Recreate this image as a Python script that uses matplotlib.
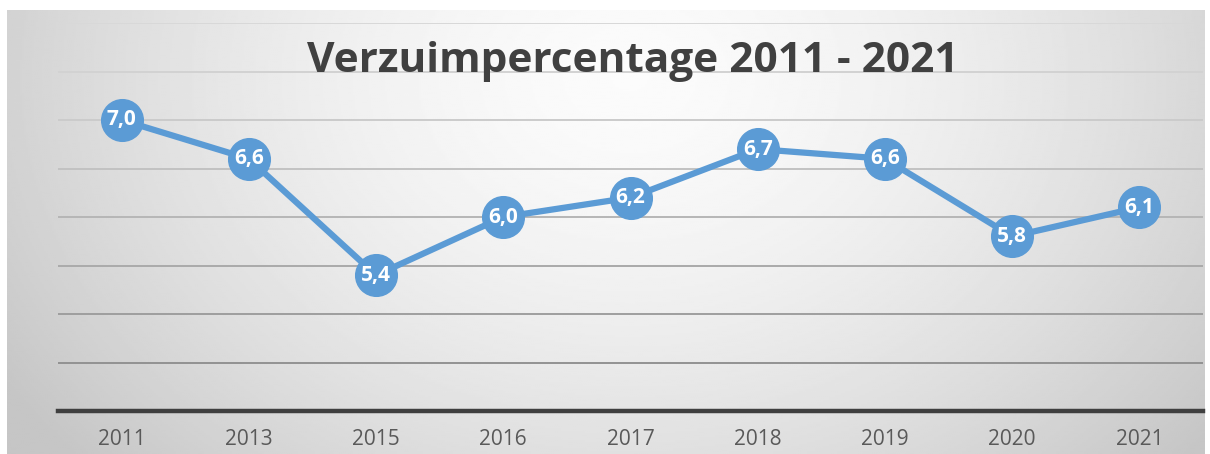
import numpy as np
import matplotlib
matplotlib.use("Agg")
import matplotlib.pyplot as plt

years = ["2011", "2013", "2015", "2016", "2017", "2018", "2019", "2020", "2021"]
values = [7.0, 6.6, 5.4, 6.0, 6.2, 6.7, 6.6, 5.8, 6.1]
labels = ["7,0", "6,6", "5,4", "6,0", "6,2", "6,7", "6,6", "5,8", "6,1"]
title = "Verzuimpercentage 2011 - 2021"
grid_levels = [4.5, 5.0, 5.5, 6.0, 6.5, 7.0, 7.5, 8.0]
grid_colors = ["#929292", "#9e9e9e", "#aaaaaa", "#b6b6b6", "#c2c2c2", "#cbcbcb", "#d2d2d2", "#d8d8d8"]

W, H = 1210, 454
fig = plt.figure(figsize=(W / 100, H / 100), dpi=100)
fig.patch.set_facecolor("white")

# background gradient panel
bx0, by0, bx1, by1 = 7, 10, 1205, 454
bg = fig.add_axes([bx0 / W, 1 - by1 / H, (bx1 - bx0) / W, (by1 - by0) / H])
ny, nx = 200, 600
yy, xx = np.mgrid[0:1:ny * 1j, 0:1:nx * 1j]
cx, cy = 0.52, 0.15
d = np.sqrt(((xx - cx) / 0.62) ** 2 + ((yy - cy) / 1.3) ** 2)
d = np.clip(d, 0, 1)
shade = 0.985 - 0.21 * d ** 1.6
bg.imshow(shade, cmap="gray", vmin=0, vmax=1, aspect="auto", extent=[0, 1, 1, 0], interpolation="bilinear")
bg.set_axis_off()

ax_left, ax_right = 58, 1203
ax_top, ax_bot = 23, 411
ax = fig.add_axes([ax_left / W, 1 - ax_bot / H, (ax_right - ax_left) / W, (ax_bot - ax_top) / H])
ax.patch.set_alpha(0)
x = np.arange(len(years))
ax.set_xlim(-0.5, len(years) - 0.5)
ax.set_ylim(4.0, 8.0)
for lvl, col in zip(grid_levels, grid_colors):
    ax.axhline(lvl, color=col, linewidth=1.4, zorder=1)
for s in ["top", "right", "left"]:
    ax.spines[s].set_visible(False)
ax.spines["bottom"].set_color("#3f3f3f")
ax.spines["bottom"].set_linewidth(3.2)
ax.set_yticks([])
ax.tick_params(axis="x", length=0, pad=13, labelsize=15, labelcolor="#595959")
ax.set_xticks(x)
ax.set_xticklabels(years, fontfamily="Open Sans")

ax.plot(x, values, color="#5b9bd5", linewidth=4.5, marker="o", markersize=30,
        markerfacecolor="#5b9bd5", markeredgecolor="#5b9bd5", zorder=3, clip_on=False)
for xi, v, lab in zip(x, values, labels):
    ax.text(xi, v, lab, ha="center", va="center", color="white", fontsize=15,
            fontweight="bold", fontfamily="Open Sans", zorder=4)

fig.text(633 / W, 1 - 62 / H, title, ha="center", va="center", fontsize=30.5,
         fontweight="bold", color="#404040", fontfamily="Open Sans")

fig.savefig("out.png", dpi=100)
